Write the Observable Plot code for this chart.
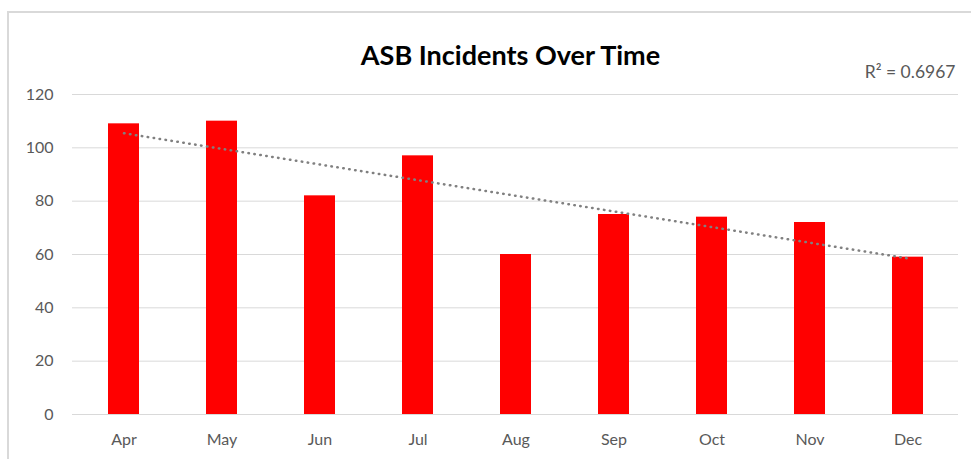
<!DOCTYPE html>
<html>
<head>
<meta charset="utf-8">
<script src="https://cdn.jsdelivr.net/npm/d3@7"></script>
<script src="https://cdn.jsdelivr.net/npm/@observablehq/plot@0.6"></script>
<style>
  html, body { margin: 0; padding: 0; background: #fff; }
  #wrap { position: relative; width: 971px; height: 459px; overflow: hidden; }
  #frame { position: absolute; left: 7px; top: 11px; width: 1100px; height: 600px;
           border-left: 2px solid #d9d9d9; border-top: 2px solid #d9d9d9; box-sizing: border-box; }
  #wrap svg { position: absolute; left: 0; top: 0; }
</style>
</head>
<body>
<div id="wrap"><div id="frame"></div></div>
<script>
const months = ["Apr", "May", "Jun", "Jul", "Aug", "Sep", "Oct", "Nov", "Dec"];
const incidents = [109, 110, 82, 97, 60, 75, 74, 72, 59];
const yTicks = [0, 20, 40, 60, 80, 100, 120];
const titleText = "ASB Incidents Over Time";
const r2Label = "R\u00B2 = 0.6967";

const data = months.map((m, i) => ({month: m, value: incidents[i]}));

// linear trendline (least squares on category index)
const n = incidents.length;
const xs = d3.range(1, n + 1);
const mx = d3.mean(xs), my = d3.mean(incidents);
const slope = d3.sum(xs, (x, i) => (x - mx) * (incidents[i] - my)) / d3.sum(xs, x => (x - mx) ** 2);
const intercept = my - slope * mx;
const trend = months.map((m, i) => ({month: m, value: intercept + slope * xs[i]}));

const font = "Lato, 'Open Sans', sans-serif";

const chart = Plot.plot({
  width: 971,
  height: 459,
  marginLeft: 72,
  marginRight: 13,
  marginTop: 94,
  marginBottom: 45,
  style: {fontFamily: font, fontSize: "16px", color: "#595959", background: "transparent"},
  x: {domain: months, paddingInner: 0.685, paddingOuter: 0.3425, align: 0.5, label: null},
  y: {domain: [0, 120], ticks: yTicks, label: null},
  marks: [
    Plot.gridY(yTicks, {stroke: "#d9d9d9", strokeOpacity: 1, strokeWidth: 1}),
    Plot.axisY(yTicks, {tickSize: 0, tickPadding: 19, label: null, fill: "#595959", fontSize: 16}),
    Plot.axisX({tickSize: 0, tickPadding: 19, label: null, fill: "#595959", fontSize: 16}),
    Plot.barY(data, {x: "month", y: "value", fill: "#ff0000"}),
    Plot.line(trend, {x: "month", y: "value", stroke: "#808080", strokeWidth: 2.5,
      strokeDasharray: "0.5 5.5", strokeLinecap: "round"}),
    Plot.text([titleText], {frameAnchor: "top", dx: -5, dy: -49, text: d => d,
      fontSize: 27, fontWeight: "bold", fill: "#000", fontFamily: font}),
    Plot.text([r2Label], {frameAnchor: "top-right", dx: -3, dy: -29, text: d => d,
      textAnchor: "end", fontSize: 17.5, fill: "#595959", fontFamily: font})
  ]
});
document.getElementById("wrap").appendChild(chart);
</script>
</body>
</html>
